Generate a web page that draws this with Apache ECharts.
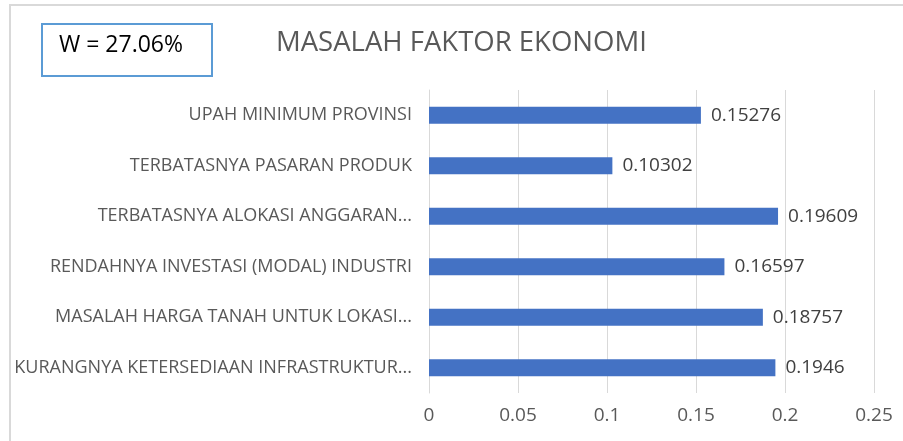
<!DOCTYPE html>
<html>
<head>
<meta charset="utf-8">
<style>
  html, body { margin: 0; padding: 0; background: #fff; }
  #chart { width: 903px; height: 441px; }
</style>
<script src="https://cdn.jsdelivr.net/npm/echarts@6/dist/echarts.min.js"></script>
</head>
<body>
<div id="chart"></div>
<script>
const categories = [
  'KURANGNYA KETERSEDIAAN INFRASTRUKTUR...',
  'MASALAH HARGA TANAH UNTUK LOKASI...',
  'RENDAHNYA INVESTASI (MODAL) INDUSTRI',
  'TERBATASNYA ALOKASI ANGGARAN...',
  'TERBATASNYA PASARAN PRODUK',
  'UPAH MINIMUM PROVINSI'
]
const weights = [0.1946, 0.18757, 0.16597, 0.19609, 0.10302, 0.15276]
const xTicks = [0, 0.05, 0.1, 0.15, 0.2, 0.25]
const titleText = 'MASALAH FAKTOR EKONOMI'
const boxText = 'W = 27.06%'

const font = '"Open Sans", sans-serif'
const chart = echarts.init(document.getElementById('chart'))

chart.setOption({
  animation: false,
  textStyle: { fontFamily: font },
  title: {
    text: titleText,
    left: 271,
    top: 24,
    textStyle: { fontFamily: font, fontSize: 27.5, fontWeight: 'normal', color: '#595959' }
  },
  graphic: [
    {
      type: 'rect',
      shape: { x: 10, y: 5, width: 1000, height: 1000 },
      style: { fill: 'none', stroke: '#d9d9d9', lineWidth: 2 },
      silent: true
    },
    {
      type: 'rect',
      shape: { x: 42, y: 24, width: 170, height: 52 },
      style: { fill: '#fff', stroke: '#5b9bd5', lineWidth: 2 }
    },
    {
      type: 'text',
      left: 59,
      top: 34,
      style: { text: boxText, fontFamily: font, fontSize: 23, fill: '#000' }
    }
  ],
  grid: { left: 429, right: 29, top: 90, bottom: 48 },
  xAxis: {
    type: 'value',
    min: xTicks[0],
    max: xTicks[xTicks.length - 1],
    interval: 0.05,
    axisLine: { show: false },
    axisTick: { show: false },
    splitLine: { lineStyle: { color: '#d9d9d9', width: 1 } },
    axisLabel: { color: '#595959', fontSize: 19, margin: 13, fontFamily: font }
  },
  yAxis: {
    type: 'category',
    data: categories,
    axisLine: { show: true, lineStyle: { color: '#d9d9d9' } },
    axisTick: { show: false },
    axisLabel: { color: '#595959', fontSize: 18, margin: 17, fontFamily: font }
  },
  series: [{
    type: 'bar',
    data: weights,
    barWidth: 17,
    itemStyle: { color: '#4472c4' },
    label: {
      show: true,
      position: 'right',
      distance: 10,
      color: '#404040',
      fontSize: 19,
      fontFamily: font
    }
  }]
})
</script>
</body>
</html>
